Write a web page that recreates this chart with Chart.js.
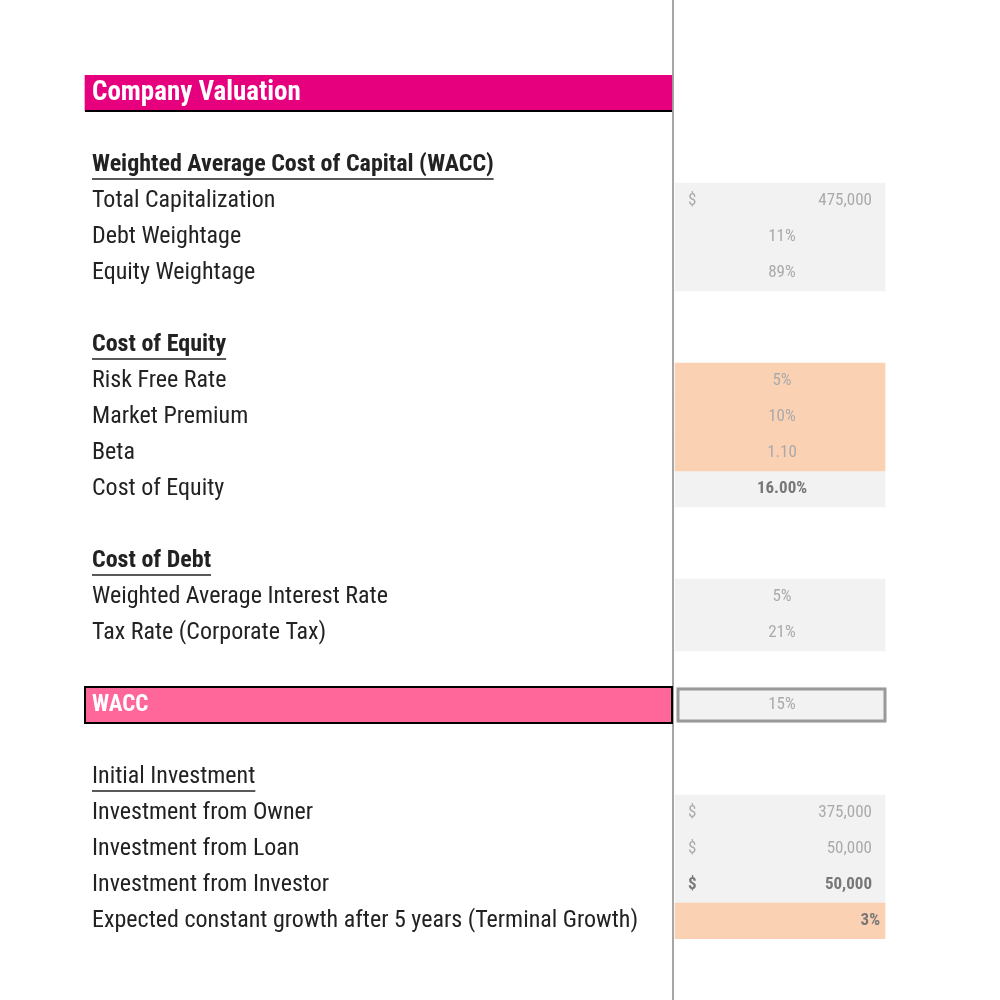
<!DOCTYPE html>
<html><head><meta charset="utf-8">
<script src="https://cdn.jsdelivr.net/npm/chart.js@4"></script>
<style>html,body{margin:0;background:#fff}#w{width:1000px;height:1000px}</style>
</head><body><div id="w"><canvas id="c"></canvas></div>
<script>
const rowLabels = ["Company Valuation","","Weighted Average Cost of Capital (WACC)","Total Capitalization","Debt Weightage","Equity Weightage","","Cost of Equity","Risk Free Rate","Market Premium","Beta","Cost of Equity","","Cost of Debt","Weighted Average Interest Rate","Tax Rate (Corporate Tax)","","WACC","","Initial Investment","Investment from Owner","Investment from Loan","Investment from Investor","Expected constant growth after 5 years (Terminal Growth)"];
const rowValues = ["","","","475,000","11%","89%","","","5%","10%","1.10","16.00%","","","5%","21%","","15%","","","375,000","50,000","50,000","3%"];
const dollarRows = [3,20,21,22];
const sectionRows = [2,7,13];
const underlineRows = [2,7,13,19];
const inputRows = [8,9,10,23];
const calcRows = [3,4,5,11,14,15,20,21,22];
const boldValueRows = [11,22,23];

const pinkBar = rowLabels.map((_,i)=> i===0 ? [85,672] : null);
const waccBar = rowLabels.map((_,i)=> i===17 ? [85,672] : null);
const orange = rowLabels.map((_,i)=> inputRows.includes(i) ? [675,885] : null);
const grey = rowLabels.map((_,i)=> calcRows.includes(i) ? [675,885] : (i===17?[678,885]:null));

const textPlugin = {
  id:'sheet',
  afterDatasetsDraw(chart){
    const ctx=chart.ctx, y=chart.scales.y, x=chart.scales.x;
    const F='"Liberation Sans Narrow","Roboto Condensed","Liberation Sans",sans-serif';
    ctx.save();
    ctx.strokeStyle='#888'; ctx.lineWidth=1.5;
    ctx.beginPath(); ctx.moveTo(x.getPixelForValue(673),0); ctx.lineTo(x.getPixelForValue(673),1000); ctx.stroke();
    ctx.textBaseline='middle';
    rowLabels.forEach((lab,i)=>{
      const py=y.getPixelForValue(i);
      const lx=x.getPixelForValue(92);
      if(i===0){
        ctx.fillStyle='#fff'; ctx.font='bold 27px '+F; ctx.fillText(lab,lx,py);
        ctx.strokeStyle='#000'; ctx.lineWidth=2;
        ctx.beginPath(); ctx.moveTo(x.getPixelForValue(85),py+18); ctx.lineTo(x.getPixelForValue(672),py+18); ctx.stroke();
      } else if(i===17){
        ctx.fillStyle='#fff'; ctx.font='bold 23px '+F; ctx.fillText(lab,lx,py);
        ctx.strokeStyle='#000'; ctx.lineWidth=2;
        ctx.strokeRect(x.getPixelForValue(85),py-18,x.getPixelForValue(672)-x.getPixelForValue(85),36);
        ctx.strokeStyle='#999'; ctx.lineWidth=3;
        ctx.strokeRect(x.getPixelForValue(678),py-16,x.getPixelForValue(885)-x.getPixelForValue(678),32);
      } else if(lab){
        const sec=sectionRows.includes(i);
        ctx.fillStyle='#222'; ctx.font=(sec?'bold ':'')+'24px '+F;
        ctx.fillText(lab,lx,py);
        if(underlineRows.includes(i)){
          const w=ctx.measureText(lab).width;
          ctx.lineWidth=1.5; ctx.strokeStyle='#222';
          ctx.beginPath(); ctx.moveTo(lx,py+14); ctx.lineTo(lx+w,py+14); ctx.stroke();
        }
      }
      const v=rowValues[i];
      if(v){
        ctx.fillStyle=boldValueRows.includes(i)?'#777':'#aaa';
        ctx.font=(boldValueRows.includes(i)?'bold ':'')+'17px '+F;
        if(dollarRows.includes(i)){ctx.textAlign='left';ctx.fillText('$',x.getPixelForValue(688),py);}
        if(dollarRows.includes(i)){ctx.textAlign='right';ctx.fillText(v,x.getPixelForValue(872),py);}
        else if(i===23){ctx.textAlign='right';ctx.fillText(v,x.getPixelForValue(880),py);}
        else {ctx.textAlign='center';ctx.fillText(v,x.getPixelForValue(782),py);}
        ctx.textAlign='left';
      }
    });
    ctx.restore();
  }
};

new Chart(document.getElementById('c'),{
  type:'bar',
  data:{labels:rowLabels,datasets:[
    {data:pinkBar,backgroundColor:'#e6007e'},
    {data:waccBar,backgroundColor:'#ff6699'},
    {data:orange,backgroundColor:'#fbd1b3'},
    {data:grey,backgroundColor:'#f2f2f2'}
  ]},
  options:{
    indexAxis:'y',responsive:true,maintainAspectRatio:false,animation:false,
    grouped:false,barPercentage:1,categoryPercentage:1,
    layout:{padding:{top:75,bottom:61,left:0,right:0}},
    plugins:{legend:{display:false},tooltip:{enabled:false}},
    scales:{x:{type:'linear',min:0,max:1000,display:false},y:{display:false}}
  },
  plugins:[textPlugin]
});
</script></body></html>
